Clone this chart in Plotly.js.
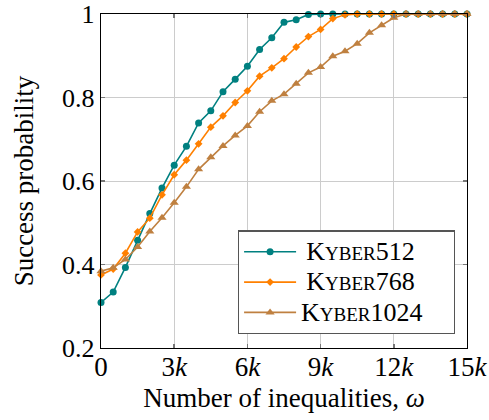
<!DOCTYPE html>
<html>
<head>
<meta charset="utf-8">
<script src="https://cdn.plot.ly/plotly-3.0.1.min.js"></script>
<style>html,body{margin:0;padding:0;background:#fff;}#chart{width:489px;height:420px;}</style>
</head>
<body>
<div id="chart"></div>
<script>
// Number of inequalities (omega)
const omega = [0,500,1000,1500,2000,2500,3000,3500,4000,4500,5000,5500,6000,6500,7000,7500,8000,8500,9000,9500,10000,10500,11000,11500,12000,12500,13000,13500,14000,14500,15000];
const kyber512 = [0.309,0.334,0.393,0.458,0.522,0.583,0.638,0.683,0.739,0.768,0.814,0.844,0.875,0.915,0.943,0.980,0.986,0.999,1,1,1,1,1,1,1,1,1,1,1,1,1];
const kyber768 = [0.375,0.389,0.427,0.478,0.511,0.567,0.615,0.650,0.689,0.729,0.756,0.788,0.816,0.851,0.871,0.893,0.921,0.946,0.963,0.989,0.998,1,1,1,1,1,1,1,1,1,1];
const kyber1024 = [0.384,0.392,0.412,0.442,0.479,0.512,0.548,0.586,0.628,0.657,0.684,0.709,0.732,0.766,0.792,0.808,0.833,0.859,0.873,0.899,0.911,0.929,0.955,0.973,0.991,1,1,1,1,1,1];
const seriesNames = [
  '<span style="font-size:26px">\u2009K</span><span style="font-size:19px">YBER</span><span style="font-size:26px">512</span>',
  '<span style="font-size:26px">\u2009K</span><span style="font-size:19px">YBER</span><span style="font-size:26px">768</span>',
  '<span style="font-size:26px">K</span><span style="font-size:19px">YBER</span><span style="font-size:26px">1024\u00A0\u00A0\u00A0\u00A0</span>'
];
const xTickVals = [0,3000,6000,9000,12000,15000];
const xTickText = ['0','3<i>k</i>','6<i>k</i>','9<i>k</i>','12<i>k</i>','15<i>k</i>'];
const yTickVals = [0.2,0.4,0.6,0.8,1];
const yTickText = ['0.2','0.4','0.6','0.8','1'];

const FONT = 'Liberation Serif';
const colors = ['#008080','#ff8000','#bf8040'];
const symbols = ['circle','diamond','triangle-up'];
const sizes = [7,6,8];
const ys = [kyber512,kyber768,kyber1024];

const traces = ys.map((y,i)=>({
  x: omega, y: y, name: seriesNames[i], type:'scatter', mode:'lines+markers',
  line:{color:colors[i], width:1.6},
  marker:{color:colors[i], symbol:symbols[i], size:sizes[i]},
  cliponaxis:false
}));

const axisCommon = {
  showline:true, linecolor:'#000', linewidth:1.2, mirror:'ticks',
  showgrid:true, gridcolor:'#cccccc', gridwidth:1,
  ticks:'inside', ticklen:4, tickcolor:'#777', tickwidth:1.5,
  zeroline:false, ticklabeloverflow:'allow'
};

const layout = {
  width:489, height:420,
  margin:{l:101, r:22, t:14, b:72},
  paper_bgcolor:'#fff', plot_bgcolor:'#fff',
  font:{family:FONT, size:27, color:'#000'},
  showlegend:true,
  xaxis: Object.assign({}, axisCommon, {
    range:[0,15000], tickvals:xTickVals, ticktext:xTickText, ticklabelstandoff:-6,
    tickfont:{family:FONT, size:27, color:'#000'},
    title:{text:'Number of inequalities, <i>ω</i>', font:{family:FONT, size:27, color:'#000'}, standoff:7}
  }),
  yaxis: Object.assign({}, axisCommon, {
    range:[0.2,1], tickvals:yTickVals, ticktext:yTickText,
    tickfont:{family:FONT, size:26, color:'#000'},
    title:{text:'Success probability', font:{family:FONT, size:27, color:'#000'}, standoff:20}
  }),
  legend:{
    x:0.374, y:0.352, xanchor:'left', yanchor:'top',
    bgcolor:'#fff', bordercolor:'#555', borderwidth:1.2,
    font:{family:FONT, size:21, color:'#000'},
    tracegroupgap:0, itemwidth:52
  }
};

Plotly.newPlot('chart', traces, layout, {displayModeBar:false, staticPlot:true});
</script>
</body>
</html>
